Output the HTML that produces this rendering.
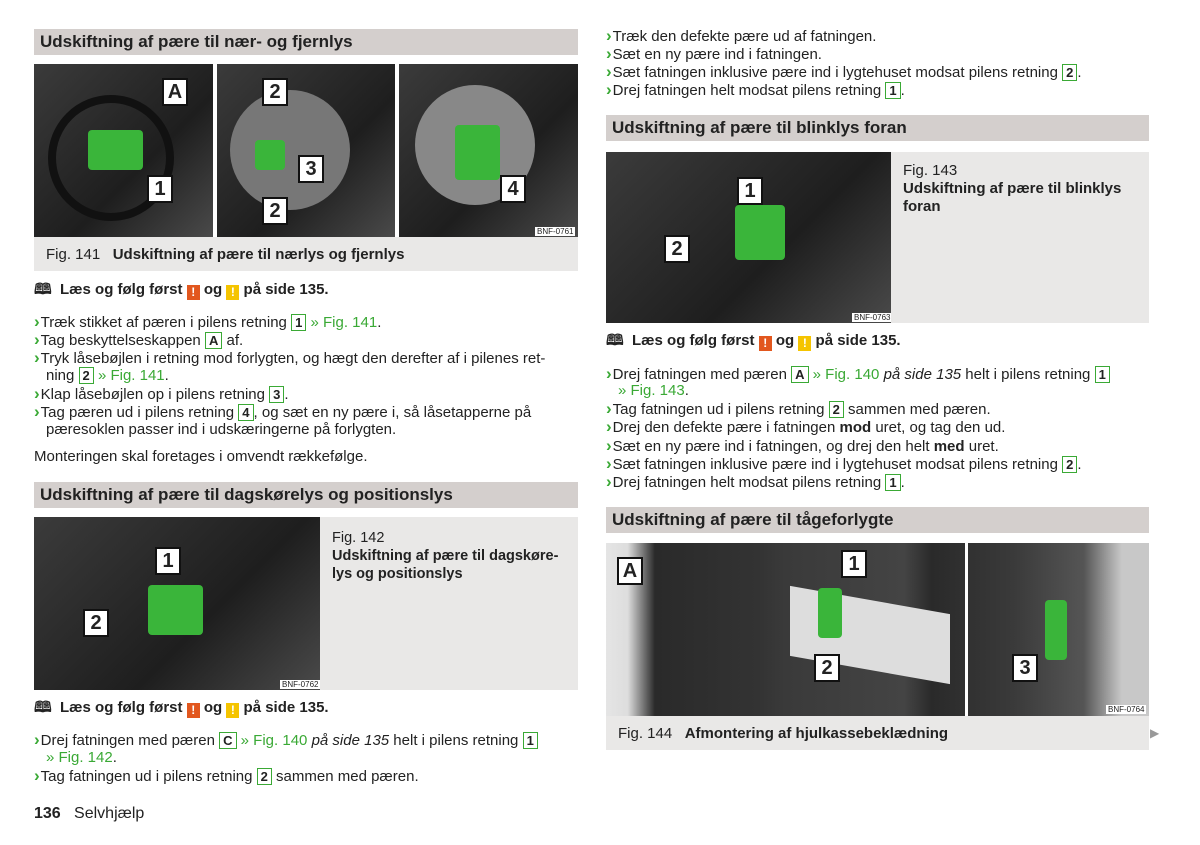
<!DOCTYPE html>
<html><head><meta charset="utf-8"><style>
body{margin:0;width:1200px;height:845px;background:#fff;position:relative;overflow:hidden;font-family:"Liberation Sans",sans-serif;color:#222}
.a{position:absolute;white-space:nowrap;font-size:15px;line-height:18px}
.h{position:absolute;background:#d4cfcd;font-weight:bold;font-size:17px;line-height:26px;padding-left:6px;box-sizing:border-box;height:26px}
.c{color:#3aa935;font-weight:bold;font-size:17px;margin-right:1px}
.g{color:#3aa935}
.b{display:inline-block;border:1.5px solid #3aa935;padding:0 3px;line-height:15px;font-weight:bold;font-size:13px}
.ph{position:absolute;background:linear-gradient(135deg,#3b3b3b,#1e1e1e 60%,#4a4a4a)}
.cap{position:absolute;background:#e9e8e7;font-size:15px;white-space:nowrap}
.w{display:inline-block;width:13px;height:15px;color:#fff;font-size:12px;text-align:center;line-height:15px;font-weight:bold;vertical-align:-2px}
.n{position:absolute;background:#fff;border:2px solid #111;font-weight:bold;font-size:20px;width:22px;height:24px;text-align:center;line-height:24px}
.gr{position:absolute;background:#3ab53a;border-radius:4px}
.bnf{position:absolute;font-size:8px;background:#fff;padding:0 2px;color:#222}
</style></head><body>
<!-- left -->
<div class="h" style="left:34px;top:29px;width:544px">Udskiftning af pære til nær- og fjernlys</div>
<div class="ph" style="left:34px;top:64px;width:179px;height:173px"></div>
<div class="ph" style="left:217px;top:64px;width:178px;height:173px"></div>
<div class="ph" style="left:399px;top:64px;width:179px;height:173px"></div>
<div style="position:absolute;left:48px;top:95px;width:110px;height:110px;border-radius:50%;border:8px solid #111"></div>
<div style="position:absolute;left:230px;top:90px;width:120px;height:120px;border-radius:50%;background:#777"></div>
<div style="position:absolute;left:415px;top:85px;width:120px;height:120px;border-radius:50%;background:#888"></div>
<div class="gr" style="left:88px;top:130px;width:55px;height:40px"></div>
<div class="gr" style="left:455px;top:125px;width:45px;height:55px"></div>
<div class="gr" style="left:255px;top:140px;width:30px;height:30px"></div>
<div class="n" style="left:162px;top:78px">A</div><div class="n" style="left:147px;top:175px">1</div>
<div class="n" style="left:262px;top:78px">2</div><div class="n" style="left:298px;top:155px">3</div><div class="n" style="left:262px;top:197px">2</div>
<div class="n" style="left:500px;top:175px">4</div>
<div class="bnf" style="left:535px;top:227px">BNF-0761</div>
<div class="cap" style="left:34px;top:237px;width:544px;height:34px;line-height:36px;padding-left:12px;box-sizing:border-box">Fig. 141&nbsp;&nbsp; <b>Udskiftning af pære til nærlys og fjernlys</b></div>
<div class="a" style="left:34px;top:281px;font-weight:bold">🕮&nbsp; Læs og følg først <span class="w" style="background:#e2571e">!</span> og <span class="w" style="background:#f5c400">!</span> på side 135.</div>
<div class="a" style="left:34px;top:313px"><span class="c">›</span>Træk stikket af pæren i pilens retning <span class="b">1</span> <span class="g">» Fig. 141</span>.</div>
<div class="a" style="left:34px;top:331px"><span class="c">›</span>Tag beskyttelseskappen <span class="b">A</span> af.</div>
<div class="a" style="left:34px;top:349px"><span class="c">›</span>Tryk låsebøjlen i retning mod forlygten, og hægt den derefter af i pilenes ret-</div>
<div class="a" style="left:46px;top:367px">ning <span class="b">2</span> <span class="g">» Fig. 141</span>.</div>
<div class="a" style="left:34px;top:385px"><span class="c">›</span>Klap låsebøjlen op i pilens retning <span class="b">3</span>.</div>
<div class="a" style="left:34px;top:403px"><span class="c">›</span>Tag pæren ud i pilens retning <span class="b">4</span>, og sæt en ny pære i, så låsetapperne på</div>
<div class="a" style="left:46px;top:421px">pæresoklen passer ind i udskæringerne på forlygten.</div>
<div class="a" style="left:34px;top:448px">Monteringen skal foretages i omvendt rækkefølge.</div>
<div class="h" style="left:34px;top:482px;width:544px">Udskiftning af pære til dagskørelys og positionslys</div>
<div class="ph" style="left:34px;top:517px;width:286px;height:173px"></div>
<div class="gr" style="left:148px;top:585px;width:55px;height:50px"></div>
<div class="n" style="left:155px;top:547px">1</div><div class="n" style="left:83px;top:609px">2</div>
<div class="bnf" style="left:280px;top:680px">BNF-0762</div>
<div class="cap" style="left:320px;top:517px;width:258px;height:173px;padding:12px 12px;box-sizing:border-box;line-height:18px;font-size:14.5px">Fig. 142<br><b>Udskiftning af pære til dagskøre-<br>lys og positionslys</b></div>
<div class="a" style="left:34px;top:699px;font-weight:bold">🕮&nbsp; Læs og følg først <span class="w" style="background:#e2571e">!</span> og <span class="w" style="background:#f5c400">!</span> på side 135.</div>
<div class="a" style="left:34px;top:731px"><span class="c">›</span>Drej fatningen med pæren <span class="b">C</span> <span class="g">» Fig. 140</span> <i>på side 135</i> helt i pilens retning <span class="b">1</span></div>
<div class="a" style="left:46px;top:749px" ><span class="g">» Fig. 142</span>.</div>
<div class="a" style="left:34px;top:767px"><span class="c">›</span>Tag fatningen ud i pilens retning <span class="b">2</span> sammen med pæren.</div>
<div class="a" style="left:34px;top:805px;font-size:16px"><b>136</b>&nbsp;&nbsp; Selvhjælp</div>
<!-- right -->
<div class="a" style="left:606px;top:27px"><span class="c">›</span>Træk den defekte pære ud af fatningen.</div>
<div class="a" style="left:606px;top:45px"><span class="c">›</span>Sæt en ny pære ind i fatningen.</div>
<div class="a" style="left:606px;top:63px"><span class="c">›</span>Sæt fatningen inklusive pære ind i lygtehuset modsat pilens retning <span class="b">2</span>.</div>
<div class="a" style="left:606px;top:81px"><span class="c">›</span>Drej fatningen helt modsat pilens retning <span class="b">1</span>.</div>
<div class="h" style="left:606px;top:115px;width:543px">Udskiftning af pære til blinklys foran</div>
<div class="ph" style="left:606px;top:152px;width:285px;height:171px"></div>
<div class="gr" style="left:735px;top:205px;width:50px;height:55px"></div>
<div class="n" style="left:737px;top:177px">1</div><div class="n" style="left:664px;top:235px">2</div>
<div class="bnf" style="left:852px;top:313px">BNF-0763</div>
<div class="cap" style="left:891px;top:152px;width:258px;height:171px;padding:10px 12px;box-sizing:border-box;line-height:18px">Fig. 143<br><b>Udskiftning af pære til blinklys<br>foran</b></div>
<div class="a" style="left:606px;top:332px;font-weight:bold">🕮&nbsp; Læs og følg først <span class="w" style="background:#e2571e">!</span> og <span class="w" style="background:#f5c400">!</span> på side 135.</div>
<div class="a" style="left:606px;top:365px"><span class="c">›</span>Drej fatningen med pæren <span class="b">A</span> <span class="g">» Fig. 140</span> <i>på side 135</i> helt i pilens retning <span class="b">1</span></div>
<div class="a" style="left:618px;top:382px"><span class="g">» Fig. 143</span>.</div>
<div class="a" style="left:606px;top:400px"><span class="c">›</span>Tag fatningen ud i pilens retning <span class="b">2</span> sammen med pæren.</div>
<div class="a" style="left:606px;top:418px"><span class="c">›</span>Drej den defekte pære i fatningen <b>mod</b> uret, og tag den ud.</div>
<div class="a" style="left:606px;top:437px"><span class="c">›</span>Sæt en ny pære ind i fatningen, og drej den helt <b>med</b> uret.</div>
<div class="a" style="left:606px;top:455px"><span class="c">›</span>Sæt fatningen inklusive pære ind i lygtehuset modsat pilens retning <span class="b">2</span>.</div>
<div class="a" style="left:606px;top:473px"><span class="c">›</span>Drej fatningen helt modsat pilens retning <span class="b">1</span>.</div>
<div class="h" style="left:606px;top:507px;width:543px">Udskiftning af pære til tågeforlygte</div>
<div class="ph" style="left:606px;top:543px;width:543px;height:173px;background:linear-gradient(90deg,#e5e5e5 0,#ddd 4%,#2a2a2a 9%,#333 28%,#3a3a3a 33%,#444 55%,#2a2a2a 60%,#3a3a3a 75%,#555 88%,#c8c8c8 95%)"></div>
<div style="position:absolute;left:965px;top:543px;width:3px;height:173px;background:#fff"></div>
<div style="position:absolute;left:790px;top:600px;width:160px;height:70px;background:#ddd;transform:skewY(10deg)"></div>
<div class="gr" style="left:818px;top:588px;width:24px;height:50px"></div>
<div class="gr" style="left:1045px;top:600px;width:22px;height:60px"></div>
<div class="n" style="left:617px;top:557px">A</div><div class="n" style="left:841px;top:550px">1</div><div class="n" style="left:814px;top:654px">2</div><div class="n" style="left:1012px;top:654px">3</div>
<div class="bnf" style="left:1106px;top:705px">BNF-0764</div>
<div class="cap" style="left:606px;top:716px;width:543px;height:34px;line-height:36px;padding-left:12px;box-sizing:border-box">Fig. 144&nbsp;&nbsp; <b>Afmontering af hjulkassebeklædning</b></div>
<div class="a" style="left:1150px;top:724px;color:#999;font-size:12px">▶</div>
</body></html>
